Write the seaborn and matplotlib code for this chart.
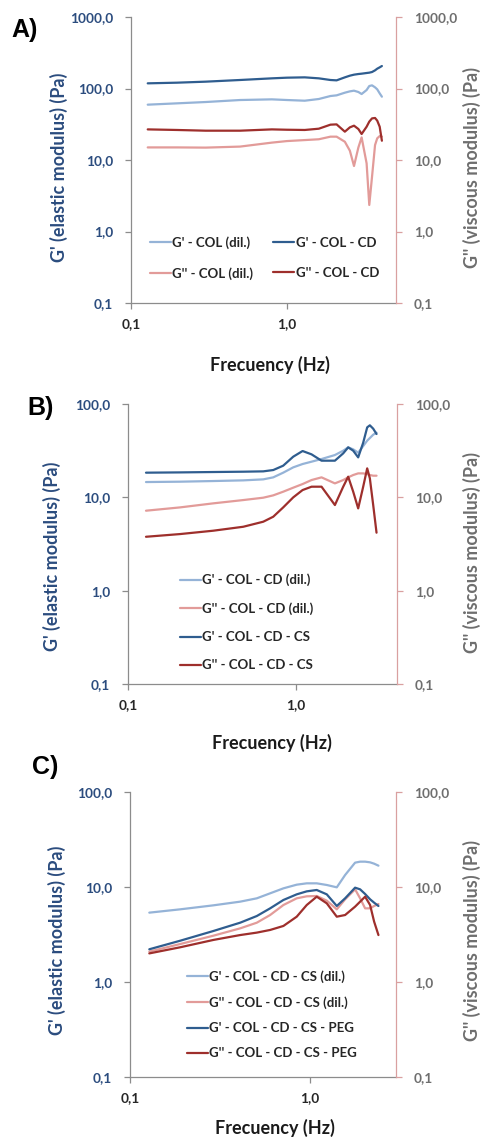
import matplotlib
matplotlib.use("Agg")
import matplotlib.pyplot as plt
import seaborn as sns
from matplotlib.ticker import FixedLocator, FixedFormatter, NullLocator

sns.set_style("white")
plt.rcParams['font.family'] = ['Lato', 'DejaVu Sans']

# ---------------- data ----------------
# Panel A
freq_a = [0.128, 0.197, 0.301, 0.50, 0.80, 1.00, 1.30, 1.60, 1.90, 2.08, 2.35,
          2.53, 2.69, 2.87, 3.01, 3.24, 3.37, 3.51, 3.67, 3.79, 3.93, 4.06]
a_gp_col_dil = [59.4, 62.0, 64.7, 69.0, 70.5, 69.0, 67.5, 71.3, 78.5, 80.2, 87.4,
                91.2, 93.2, 89.3, 83.7, 95.2, 108.3, 110.7, 103.8, 97.3, 85.5, 76.8]
a_gp_col_cd = [118.1, 120.6, 124.6, 131.5, 138.7, 141.7, 143.2, 138.7, 131.5, 130.0, 143.2,
               151.1, 156.1, 159.4, 161.2, 164.7, 166.5, 170.1, 179.5, 189.3, 197.6, 206.3]
a_gpp_col_dil = [15.0, 15.0, 14.9, 15.4, 17.5, 18.4, 19.0, 19.5, 21.2, 21.2, 18.0,
                 13.5, 8.24, 15.0, 20.7, 8.98, 2.35, 5.84, 16.2, 20.1, 21.6, 21.2]
a_gpp_col_cd = [26.8, 26.3, 25.7, 25.7, 26.8, 26.5, 26.3, 27.4, 31.2, 31.5, 24.9,
                28.6, 30.2, 27.1, 23.1, 29.2, 34.4, 38.2, 38.7, 35.5, 29.2, 18.6]
labels_a = ["G' - COL (dil.)", "G'' - COL (dil.)", "G' - COL - CD", "G'' - COL - CD"]

# Panel B
freq_b = [0.128, 0.204, 0.322, 0.486, 0.639, 0.733, 0.840, 0.964, 1.096, 1.239, 1.421,
          1.707, 1.913, 2.048, 2.194, 2.349, 2.516, 2.658, 2.757, 2.886, 3.021]
b_gp_cd_dil = [14.58, 14.71, 14.95, 15.20, 15.58, 16.37, 18.37, 20.95, 22.75, 24.09, 25.73,
               28.4, 31.6, 34.31, 32.67, 30.09, 35.46, 40.46, 43.2, 46.9, 49.3]
b_gpp_cd_dil = [7.19, 7.80, 8.62, 9.35, 9.91, 10.50, 11.49, 12.69, 13.88, 15.32, 16.37,
                14.11, 15.32, 16.37, 17.34, 18.06, 18.06, 17.77, 17.34, 17.05, 17.05]
b_gp_cd_cs = [18.37, 18.5, 18.67, 18.82, 18.98, 19.61, 21.83, 27.26, 31.35, 28.88, 24.70,
              24.70, 29.6, 34.31, 31.6, 26.8, 38.5, 56.2, 59.1, 54.4, 47.7]
b_gpp_cd_cs = [3.78, 4.04, 4.39, 4.84, 5.48, 6.20, 7.80, 9.99, 11.97, 13.0, 13.0,
               8.27, 13.0, 16.64, 11.49, 7.61, 13.0, 20.44, 15.97, 8.27, 4.18]
labels_b = ["G' - COL - CD (dil.)", "G'' - COL - CD (dil.)", "G' - COL - CD - CS", "G'' - COL - CD - CS"]

# Panel C
freq_c = [0.128, 0.190, 0.290, 0.409, 0.506, 0.600, 0.711, 0.843, 0.958, 1.089, 1.238,
          1.407, 1.565, 1.778, 1.896, 2.021, 2.154, 2.268, 2.397]
c_gp_cs_dil = [5.37, 5.82, 6.41, 7.01, 7.60, 8.58, 9.68, 10.58, 10.93, 10.93, 10.50,
               9.92, 13.37, 18.04, 18.48, 18.48, 18.18, 17.60, 16.77]
c_gpp_cs_dil = [2.09, 2.51, 3.07, 3.67, 4.21, 5.07, 6.46, 7.60, 7.98, 8.04, 7.18,
                5.82, 7.42, 9.45, 7.60, 5.96, 5.96, 6.31, 6.62]
c_gp_cs_peg = [2.21, 2.72, 3.44, 4.21, 4.95, 5.96, 7.30, 8.37, 9.00, 9.30, 8.37,
               6.31, 7.60, 9.84, 9.45, 8.44, 7.42, 6.84, 6.31]
c_gpp_cs_peg = [2.00, 2.32, 2.77, 3.12, 3.31, 3.53, 3.89, 4.87, 6.46, 7.91, 6.73,
                4.87, 5.07, 6.21, 7.01, 7.91, 6.46, 4.32, 3.12]
labels_c = ["G' - COL - CD - CS (dil.)", "G'' - COL - CD - CS (dil.)",
            "G' - COL - CD - CS - PEG", "G'' - COL - CD - CS - PEG"]

xticks = [0.1, 1.0]
xticklabels = ["0,1", "1,0"]
yticks_a = [0.1, 1, 10, 100, 1000]
yticklabels_a = ["0,1", "1,0", "10,0", "100,0", "1000,0"]
yticks_bc = [0.1, 1, 10, 100]
yticklabels_bc = ["0,1", "1,0", "10,0", "100,0"]

xlabel = "Frecuency (Hz)"
ylabel_left = "G' (elastic modulus) (Pa)"
ylabel_right = "G'' (viscous modulus) (Pa)"

# ---------------- style ----------------
LIGHT_BLUE = '#95B3D7'
DARK_BLUE = '#2F5D8F'
LIGHT_RED = '#E29B99'
DARK_RED = '#9E2F2C'
TICK_BLUE = '#2B4C7E'
TICK_GRAY = '#6E6E6E'
SPINE_GRAY = '#8C8C8C'
SPINE_RED = '#D9A0A0'

fig = plt.figure(figsize=(4.8, 11.38), dpi=100)
fig.patch.set_facecolor('white')


def panel(rect, freq, series, labels, colors, xmax, ymax, yticks, yticklabels,
          leg_anchor, leg_ncol, leg_spacing, letter, letter_pos,
          xlab_pos, ylab_l_pos, ylab_r_pos):
    ax = fig.add_axes(rect)
    for vals, lab, col in zip(series, labels, colors):
        sns.lineplot(x=freq, y=vals, ax=ax, color=col, linewidth=1.6, label=lab,
                     estimator=None, sort=False)
    ax.set_xscale('log')
    ax.set_yscale('log')
    ax.set_xlim(0.1, xmax)
    ax.set_ylim(0.1, ymax)
    ax.xaxis.set_major_locator(FixedLocator(xticks))
    ax.xaxis.set_major_formatter(FixedFormatter(xticklabels))
    ax.xaxis.set_minor_locator(NullLocator())
    ax.yaxis.set_major_locator(FixedLocator(yticks))
    ax.yaxis.set_major_formatter(FixedFormatter(yticklabels))
    ax.yaxis.set_minor_locator(NullLocator())
    ax.grid(False)
    for s in ['top', 'right']:
        ax.spines[s].set_visible(False)
    for s in ['left', 'bottom']:
        ax.spines[s].set_color(SPINE_GRAY)
        ax.spines[s].set_linewidth(0.9)
    ax.tick_params(axis='y', direction='out', length=4, width=0.9, color=SPINE_GRAY,
                   labelcolor=TICK_BLUE, labelsize=9.8, pad=9, left=True)
    ax.tick_params(axis='x', direction='out', length=4, width=0.9, color=SPINE_GRAY,
                   labelcolor='#262626', labelsize=9.8, pad=7, bottom=True)
    for t in ax.get_yticklabels() + ax.get_xticklabels():
        t.set_fontweight('bold')

    ax2 = ax.twinx()
    ax2.set_yscale('log')
    ax2.set_ylim(0.1, ymax)
    ax2.yaxis.set_major_locator(FixedLocator(yticks))
    ax2.yaxis.set_major_formatter(FixedFormatter(yticklabels))
    ax2.yaxis.set_minor_locator(NullLocator())
    ax2.grid(False)
    for s in ['top', 'left', 'bottom']:
        ax2.spines[s].set_visible(False)
    ax2.spines['right'].set_color(SPINE_RED)
    ax2.spines['right'].set_linewidth(0.9)
    ax2.tick_params(axis='y', direction='out', length=4, width=0.9, color=SPINE_RED,
                    labelcolor=TICK_GRAY, labelsize=9.8, pad=9, right=True)
    for t in ax2.get_yticklabels():
        t.set_fontweight('bold')

    ax.set_xlabel(xlabel, fontsize=13, fontweight='bold', color='#1A1A1A')
    ax.xaxis.label.set_va('center')
    ax.xaxis.set_label_coords(*xlab_pos)
    ax.set_ylabel(ylabel_left, fontsize=13, fontweight='bold', color=TICK_BLUE)
    ax.yaxis.label.set_va('center')
    ax.yaxis.set_label_coords(*ylab_l_pos)
    ax2.set_ylabel(ylabel_right, fontsize=13, fontweight='bold', color=TICK_GRAY,
                   rotation=90)
    ax2.yaxis.label.set_va('center')
    ax2.yaxis.set_label_coords(*ylab_r_pos)

    handles, labs = ax.get_legend_handles_labels()
    ax.legend(handles, labs, loc='center left', bbox_to_anchor=leg_anchor, ncol=leg_ncol,
              frameon=False, borderpad=0, borderaxespad=0, handlelength=1.6,
              handletextpad=0.1, columnspacing=1.5, labelspacing=leg_spacing,
              prop={'weight': 'bold', 'size': 9.5})
    for t in ax.get_legend().get_texts():
        t.set_color('#262626')

    fig.text(letter_pos[0], letter_pos[1], letter, fontsize=18, fontweight='bold',
             family=['Liberation Sans', 'DejaVu Sans'], ha='left', va='center', color='black')
    return ax


panel([131 / 480, 1 - 303 / 1138, 265 / 480, 286 / 1138], freq_a,
      [a_gp_col_dil, a_gpp_col_dil, a_gp_col_cd, a_gpp_col_cd], labels_a,
      [LIGHT_BLUE, LIGHT_RED, DARK_BLUE, DARK_RED], 5.0, 1000,
      yticks_a, yticklabels_a, (0.0717, 0.157), 2, 1.37, 'A)', (0.024, 0.9736),
      (0.5245, -0.2168), (-0.2717, 0.4755), (1.2868, 0.4755))

panel([128 / 480, 1 - 684 / 1138, 269 / 480, 280 / 1138], freq_b,
      [b_gp_cd_dil, b_gpp_cd_dil, b_gp_cd_cs, b_gpp_cd_cs], labels_b,
      [LIGHT_BLUE, LIGHT_RED, DARK_BLUE, DARK_RED], 4.0, 100,
      yticks_bc, yticklabels_bc, (0.193, 0.2196), 1, 1.22, 'B)', (0.056, 0.6415),
      (0.5353, -0.2107), (-0.2825, 0.457), (1.2788, 0.468))

panel([130 / 480, 1 - 1077 / 1138, 266 / 480, 285 / 1138], freq_c,
      [c_gp_cs_dil, c_gpp_cs_dil, c_gp_cs_peg, c_gpp_cs_peg], labels_c,
      [LIGHT_BLUE, LIGHT_RED, DARK_BLUE, DARK_RED], 3.0, 100,
      yticks_bc, yticklabels_bc, (0.214, 0.2175), 1, 1.0, 'C)', (0.066, 0.326),
      (0.5451, -0.1789), (-0.2744, 0.4807), (1.2857, 0.4807))

fig.savefig('out.png', dpi=100, facecolor='white')
